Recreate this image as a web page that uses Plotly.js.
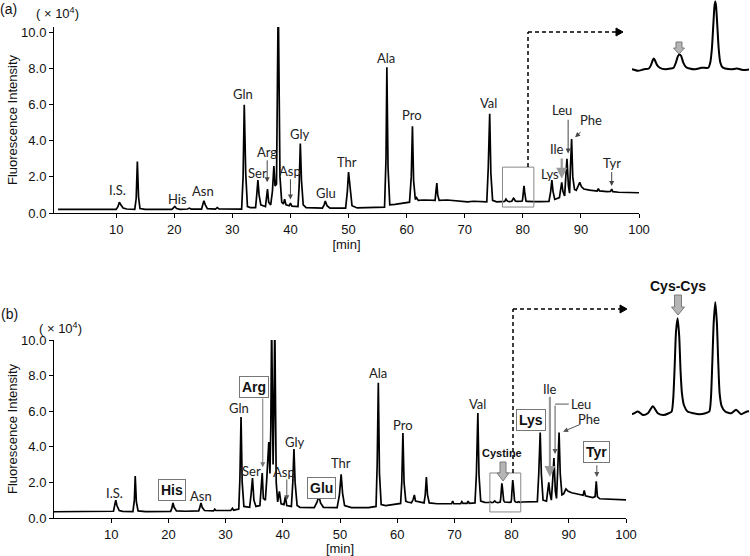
<!DOCTYPE html>
<html>
<head>
<meta charset="utf-8">
<script src="https://cdn.plot.ly/plotly-3.0.1.min.js"></script>
<style>html,body{margin:0;padding:0;background:#fff;}#chart{width:750px;height:556px;}</style>
</head>
<body>
<div id="chart"></div>
<script>
// ---------------- data: chromatogram (a), retention time [min] and intensity (x10^4) ----------------
const timeA = [0,5,8,10.0,10.3,10.55,10.8,11.2,11.8,13.2,13.45,13.65,13.85,14.1,15,19.6,19.9,20.1,20.4,21,22.3,22.6,22.9,24.7,24.9,25.1,25.35,25.7,27.1,27.4,27.7,31.6,31.85,32.05,32.3,32.6,33.1,34.0,34.2,34.4,34.6,34.9,35.7,35.9,36.05,36.25,36.6,36.9,37.15,37.35,37.6,37.9,38.2,38.5,38.8,39.0,39.25,39.8,40.0,40.25,41.3,41.5,41.7,41.9,42.2,42.7,45.5,45.8,46.0,46.3,46.8,49.5,49.8,50.0,50.25,50.6,51.5,55,56.2,56.45,56.6,56.8,57.1,58,59,60.5,60.8,61.0,61.2,61.5,61.7,62.0,63,64.9,65.05,65.2,65.35,65.6,67,69,70.5,71.5,72.5,73.8,74.05,74.3,74.5,74.8,75.5,
  76.0,76.3,76.6,76.85,76.95,77.05,77.1,77.15,77.25,77.4,77.7,77.95,78.1,78.22,78.32,78.4,78.48,78.58,78.72,78.9,79.2,79.5,79.85,79.95,80.03,80.1,80.16,80.2,80.24,80.3,80.37,80.45,80.55,80.7,81.0,81.3,81.6,82.0,
  83,84.5,84.8,85.0,85.2,85.5,86.3,86.5,86.7,86.9,87.2,87.4,87.6,87.85,88.05,88.2,88.4,88.6,88.9,89.2,89.5,89.8,90.1,90.5,91.5,92.8,93.0,93.2,94.5,95.1,95.3,95.5,96.5,98,100];
const signalA = [0.2,0.21,0.2,0.2,0.35,0.6,0.45,0.28,0.22,0.2,0.8,2.85,0.9,0.25,0.2,0.2,0.3,0.36,0.25,0.2,0.22,0.27,0.22,0.22,0.45,0.68,0.45,0.24,0.22,0.3,0.23,0.22,2.0,6.0,2.2,0.35,0.3,0.3,1.0,1.82,1.0,0.45,0.35,0.9,1.33,0.6,0.45,1.2,2.6,1.5,1.6,12,2,0.6,0.5,0.77,0.45,0.4,0.55,0.38,0.35,1.5,3.85,1.8,0.45,0.3,0.27,0.45,0.66,0.4,0.27,0.27,1.2,2.27,1.3,0.4,0.28,0.28,0.32,3.0,8.07,2.5,0.45,0.48,0.52,0.6,2.0,4.8,1.8,0.75,0.85,0.7,0.72,0.7,1.2,1.66,1.0,0.7,0.72,0.65,0.62,0.65,0.62,0.62,2.5,5.5,2.2,0.7,0.62,
  0.63,0.61,0.63,0.64,0.68,0.75,0.77,0.75,0.69,0.65,0.63,0.64,0.65,0.72,0.8,0.82,0.8,0.72,0.66,0.64,0.63,0.65,0.65,0.72,0.9,1.2,1.44,1.5,1.44,1.2,0.9,0.72,0.66,0.64,0.63,0.64,0.62,0.63,
  0.63,0.64,1.2,1.82,1.2,0.75,0.85,1.3,1.7,1.2,0.95,2.0,3.0,1.5,1.1,2.5,4.1,2.0,1.3,1.25,1.45,1.7,1.45,1.33,1.27,1.22,1.35,1.22,1.18,1.2,1.32,1.18,1.15,1.13,1.12];

// ---------------- data: chromatogram (b) ----------------
const timeB = [0,5,9,10.4,10.6,10.8,11.0,11.4,12,13.8,14.05,14.2,14.4,14.7,16,20.4,20.6,20.8,21.0,21.4,23,25.3,25.5,25.7,25.9,26.3,27.9,28.1,28.3,30.9,31.2,31.4,32.3,32.5,32.7,32.9,33.2,34.2,34.45,34.7,34.95,35.3,36.0,36.2,36.4,36.6,36.95,37.2,37.55,37.75,37.9,38.05,38.3,38.45,38.6,38.85,39.1,39.4,39.7,40.2,40.45,40.7,41.5,41.75,41.95,42.15,42.5,43,45.5,46.0,46.3,46.6,47.1,49.5,49.9,50.2,50.45,50.8,52,55,56.3,56.5,56.7,56.9,57.2,58,59.5,60.6,60.8,61.0,61.2,61.5,61.8,62.5,62.8,63.0,63.2,64.7,64.9,65.1,65.3,65.6,67,69.5,69.7,69.9,71.1,71.3,71.5,72.2,72.4,72.6,73.6,73.85,74.1,74.3,74.6,
  75.3,76.0,76.3,76.55,76.8,77.05,77.3,77.6,77.85,78.0,78.08,78.15,78.22,78.3,78.38,78.45,78.52,78.62,78.8,79.1,79.4,79.7,79.9,79.98,80.05,80.12,80.2,80.28,80.35,80.42,80.52,80.7,81.0,81.25,81.5,81.8,83,
  84.5,84.75,85.0,85.2,85.5,86.1,86.3,86.5,86.7,86.95,87.2,87.4,87.65,87.85,88.05,88.3,88.5,88.8,89.1,89.5,89.9,90.5,91.5,92.5,92.7,92.9,94.2,94.6,94.8,95.0,95.4,97,100];
const signalB = [0.35,0.36,0.35,0.38,0.7,1.0,0.7,0.42,0.37,0.36,1.0,2.36,0.9,0.4,0.36,0.37,0.55,0.85,0.6,0.4,0.38,0.4,0.6,0.85,0.6,0.42,0.4,0.5,0.42,0.42,0.55,0.44,0.5,2.2,5.67,2.0,0.65,0.6,1.3,2.25,1.0,0.65,0.7,1.4,2.53,1.1,1.0,2.2,4.27,2.5,5,11,3,6,11,2,0.9,1.5,0.8,0.75,1.2,0.7,0.65,2.0,3.88,2.0,0.7,0.6,0.58,0.9,1.25,0.85,0.6,0.58,1.3,2.45,1.4,0.7,0.58,0.58,0.65,3.0,7.6,2.5,0.75,0.7,0.75,0.82,2.0,4.78,2.0,0.95,0.9,0.85,1.05,1.3,0.95,0.85,1.3,2.3,1.3,0.85,0.8,0.8,0.95,0.8,0.8,0.92,0.82,0.82,0.95,0.82,0.85,2.5,5.9,2.4,0.95,
  0.88,0.87,0.9,0.86,0.88,0.96,0.88,0.86,0.88,0.9,1.05,1.4,1.8,1.95,1.75,1.35,1.1,0.97,0.9,0.88,0.87,0.88,0.9,1.05,1.45,1.9,2.13,1.9,1.45,1.1,0.96,0.9,0.88,0.92,0.87,0.9,0.9,
  0.92,2.5,4.8,2.5,1.0,0.95,1.5,2.0,1.4,1.0,2.2,3.37,1.5,1.1,2.6,4.8,2.5,1.3,1.35,1.63,1.5,1.42,1.35,1.28,1.55,1.25,1.15,1.2,2.06,1.2,1.08,1.05,1.02];

// ---------------- peak names ----------------
const labelsA = ["I.S.","His","Asn","Gln","Ser","Arg","Asp","Gly","Glu","Thr","Ala","Pro","Val","Lys","Ile","Leu","Phe","Tyr"];
const labelXA = [10.3,20.5,25.0,31.9,34.3,35.9,40.0,41.6,46.2,49.8,56.4,60.9,74.1,84.7,85.9,86.7,91.7,95.3];
const labelYA = [1.25,0.75,1.2,6.6,2.2,3.4,2.3,4.4,1.1,2.8,8.6,5.4,6.1,2.15,3.55,5.7,5.15,2.75];

const labelsB = ["I.S.","His","Asn","Gln","Arg","Ser","Asp","Gly","Glu","Thr","Ala","Pro","Val","Cystine","Lys","Ile","Leu","Phe","Tyr"];
const labelXB = [10.5,20.6,25.7,32.3,35.0,34.6,40.2,42.1,46.7,50.2,56.6,61.0,74.1,78.3,83.4,86.7,92.1,93.5,94.9];
const labelYB = [1.4,1.57,1.24,6.2,7.36,2.64,2.58,4.27,1.69,3.1,8.15,5.22,6.4,3.65,5.5,7.25,6.4,5.56,3.71];
const highlightedB = ["His","Arg","Glu","Lys","Tyr"];

const xTicks = [10,20,30,40,50,60,70,80,90,100];
const yTicks = [0,2,4,6,8,10];

// ---------------- layout helpers (pixel -> paper) ----------------
const W = 750, H = 556;
const px = v => v / W;
const py = v => 1 - v / H;

const tickFont = {family: "Liberation Sans, Arial, sans-serif", size: 13, color: "#111"};
const labFont = {family: "Lato, Carlito, sans-serif", size: 13, color: "#222"};
const boldFont = {family: "Liberation Sans, Arial, sans-serif", size: 14, color: "#111", weight: "bold"};

function xAx(domain, range) {
  return {domain, range, showline: true, linecolor: "#000", linewidth: 1, ticks: "outside", ticklen: 4,
    tickcolor: "#000", tickvals: xTicks, showgrid: false, zeroline: false, tickfont: tickFont,
    title: {text: "[min]", font: tickFont, standoff: 2}, fixedrange: true};
}
function yAx(domain, range) {
  return {domain, range, showline: true, linecolor: "#000", linewidth: 1, ticks: "outside", ticklen: 4,
    tickcolor: "#000", tickvals: yTicks, tickformat: ".1f", showgrid: false, zeroline: false, tickfont: tickFont,
    title: {text: "Fluorescence Intensity", font: tickFont, standoff: 0}, fixedrange: true};
}
const hidden = (domain, range) => ({domain, range, visible: false, fixedrange: true});

const lineStyle = {color: "#000", width: 1.7};
const traces = [
  {x: timeA, y: signalA, xaxis: "x", yaxis: "y", mode: "lines", line: lineStyle, hoverinfo: "skip"},
  {x: timeB, y: signalB, xaxis: "x2", yaxis: "y2", mode: "lines", line: lineStyle, hoverinfo: "skip"},
  {x: timeA, y: signalA, xaxis: "x3", yaxis: "y3", mode: "lines", line: {color: "#000", width: 2, shape: "spline", smoothing: 0.6}, hoverinfo: "skip"},
  {x: timeB, y: signalB, xaxis: "x4", yaxis: "y4", mode: "lines", line: {color: "#000", width: 2, shape: "spline", smoothing: 0.6}, hoverinfo: "skip"}
];

const annotations = [];
labelsA.forEach((t, i) => annotations.push({xref: "x", yref: "y", x: labelXA[i], y: labelYA[i], xanchor: "center", yanchor: "middle", text: t, showarrow: false, font: labFont}));
labelsB.forEach((t, i) => {
  const hl = highlightedB.includes(t);
  const a = {xref: "x2", yref: "y2", x: labelXB[i], y: labelYB[i], xanchor: "center", yanchor: "middle", text: hl ? "<b>" + t + "</b>" : t, showarrow: false, font: labFont};
  if (hl) { a.font = boldFont; a.bordercolor = "#777"; a.borderwidth = 1; a.borderpad = 2; a.bgcolor = "#fff"; }
  if (t === "Cystine") { a.text = "<b>Cystine</b>"; a.font = {family: "Liberation Sans, Arial, sans-serif", size: 11, color: "#111"}; }
  annotations.push(a);
});

function arrow(xr, yr, ax, ay, x, y, color, width) {
  annotations.push({xref: xr, yref: yr, axref: xr, ayref: yr, x, y, ax, ay, text: "", showarrow: true,
    arrowhead: 2, arrowsize: 1, arrowwidth: width || 1, arrowcolor: color || "#444"});
}
// panel (a) arrows
arrow("x", "y", 36.0, 3.0, 36.0, 1.7);
arrow("x", "y", 40.0, 1.95, 40.0, 0.75);
arrow("x", "y", 86.7, 3.1, 86.7, 1.9, "#999", 2.2);
arrow("x", "y", 87.8, 5.25, 87.8, 3.3);
arrow("x", "y", 90.2, 4.55, 89.0, 4.2);
arrow("x", "y", 95.3, 2.35, 95.3, 1.5);
// panel (b) arrows
arrow("x2", "y2", 36.5, 6.8, 36.5, 2.85, "#777");
arrow("x2", "y2", 40.7, 2.25, 40.7, 1.0, "#555");
arrow("x2", "y2", 86.7, 6.9, 86.7, 2.3, "#999", 2.2);
arrow("x2", "y2", 87.6, 6.4, 87.6, 3.6, "#555");
arrow("x2", "y2", 92.3, 5.3, 89.0, 4.85, "#555");
arrow("x2", "y2", 94.9, 3.05, 94.9, 2.3, "#555");

// panel letters, unit labels, inset label
const plainFont = {family: "Liberation Sans, Arial, sans-serif", size: 14, color: "#111"};
const paperText = (x, y, text, font) => annotations.push({xref: "paper", yref: "paper", x: px(x), y: py(y), xanchor: "center", yanchor: "middle", text, showarrow: false, font});
const unitFont = {family: "Liberation Sans, Arial, sans-serif", size: 13, color: "#111"};
paperText(8, 9, "(a)", plainFont);
paperText(9, 314, "(b)", plainFont);
paperText(57, 13, "( × 10<sup>4</sup>)", unitFont);
paperText(60, 328, "( × 10<sup>4</sup>)", unitFont);
paperText(678, 286, "<b>Cys-Cys</b>", boldFont);

function blockArrow(cx, top, bottom, shaft, head, headLen) {
  const s = shaft / 2, h = head / 2, hb = bottom - headLen;
  const pts = [[cx - s, top], [cx + s, top], [cx + s, hb], [cx + h, hb], [cx, bottom], [cx - h, hb], [cx - s, hb]];
  return {type: "path", xref: "paper", yref: "paper",
    path: "M" + pts.map(p => px(p[0]) + "," + py(p[1])).join(" L") + " Z",
    fillcolor: "#b5b5b5", line: {color: "#7a7a7a", width: 1}};
}
const dashed = {color: "#000", width: 1.5, dash: "4px,3px"};

const shapes = [
  // zoom boxes
  {type: "rect", xref: "x", yref: "y", x0: 76.5, x1: 81.9, y0: 0.33, y1: 2.54, line: {color: "#888", width: 1}},
  {type: "rect", xref: "x2", yref: "y2", x0: 76.2, x1: 81.6, y0: 0.34, y1: 2.53, line: {color: "#888", width: 1}},
  // dashed leader lines
  {type: "line", xref: "paper", yref: "paper", x0: px(528), y0: py(167), x1: px(528), y1: py(32), line: dashed},
  {type: "line", xref: "paper", yref: "paper", x0: px(528), y0: py(32), x1: px(617), y1: py(32), line: dashed},
  {type: "path", xref: "paper", yref: "paper", path: `M${px(616)},${py(28)} L${px(623)},${py(32)} L${px(616)},${py(36)} Z`, fillcolor: "#000", line: {color: "#000", width: 1}},
  {type: "line", xref: "paper", yref: "paper", x0: px(513), y0: py(473), x1: px(513), y1: py(309), line: dashed},
  {type: "line", xref: "paper", yref: "paper", x0: px(513), y0: py(309), x1: px(620), y1: py(309), line: dashed},
  {type: "path", xref: "paper", yref: "paper", path: `M${px(620)},${py(305)} L${px(627)},${py(309)} L${px(620)},${py(313)} Z`, fillcolor: "#000", line: {color: "#000", width: 1}},
  // Leu corner line in (b)
  {type: "line", xref: "x2", yref: "y2", x0: 90.0, y0: 6.4, x1: 87.6, y1: 6.4, line: {color: "#555", width: 1}},
  // grey block arrows
  blockArrow(679, 42, 54, 6, 11, 6),
  blockArrow(678, 295, 315, 7, 13, 8),
  blockArrow(503, 462, 481, 6, 12, 8)
];

const layout = {
  width: W, height: H, margin: {l: 0, r: 0, t: 0, b: 0},
  paper_bgcolor: "#fff", plot_bgcolor: "rgba(0,0,0,0)", showlegend: false,
  xaxis: Object.assign(xAx([px(54), px(639)], [-0.7, 100]), {anchor: "y"}),
  yaxis: Object.assign(yAx([py(213), py(27)], [0, 10.3]), {anchor: "x"}),
  xaxis2: Object.assign(xAx([px(54), px(626)], [0, 100]), {anchor: "y2"}),
  yaxis2: Object.assign(yAx([py(518), py(340)], [0, 10]), {anchor: "x2"}),
  xaxis3: Object.assign(hidden([px(632), px(749)], [76, 81.9]), {anchor: "y3"}),
  yaxis3: Object.assign(hidden([py(95), 1], [0.3, 1.52]), {anchor: "x3"}),
  xaxis4: Object.assign(hidden([px(632), px(749)], [76, 81.9]), {anchor: "y4"}),
  yaxis4: Object.assign(hidden([py(447), py(296)], [0.5, 2.2]), {anchor: "x4"}),
  annotations, shapes
};

Plotly.newPlot("chart", traces, layout, {displayModeBar: false, staticPlot: true});
</script>
</body>
</html>
